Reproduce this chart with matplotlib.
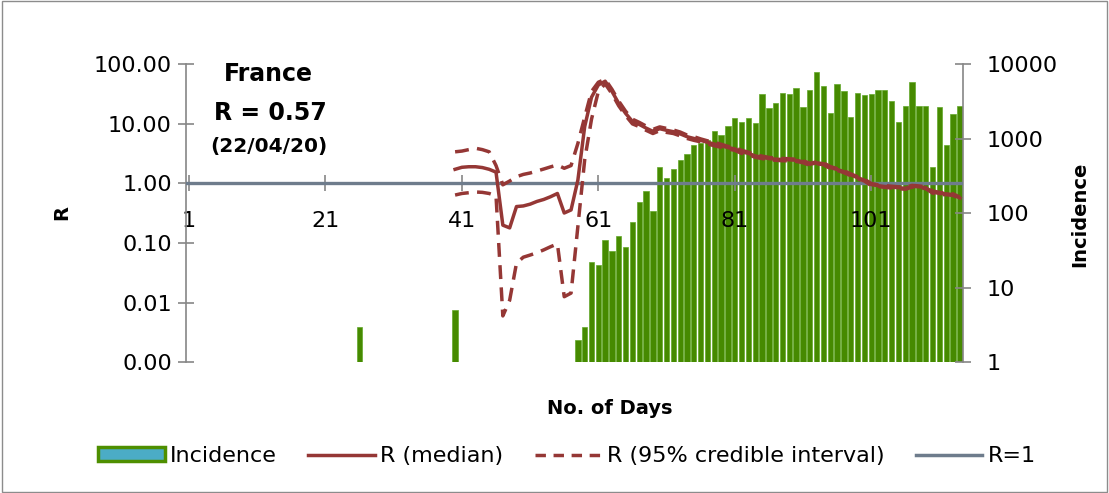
import matplotlib
matplotlib.use("Agg")
import matplotlib.pyplot as plt
from matplotlib.patches import Rectangle, Patch
from matplotlib.lines import Line2D
from matplotlib.ticker import FixedLocator, FuncFormatter

plt.rcParams['font.family'] = ['DejaVu Sans']

# incidence bars (day -> cases)
inc_days = [26, 40] + list(range(58, 115))
inc_vals = [3, 5,
            2, 3, 22, 20, 44, 31, 50, 35, 76, 143, 199, 107, 423, 300,
            393, 519, 620, 819, 879, 964, 1260, 1135, 1472, 1920, 1683, 1920, 1630, 4030,
            2566, 3053, 4120, 3990, 4810, 2700, 4560, 7820, 5070, 2200, 5440, 4425, 1945, 4080,
            3910, 4030, 4480, 4530, 3245, 1683, 2754, 5730, 2740, 2740, 423, 2650, 819, 2133, 2780]

# R estimates, days 40..114
r_days = list(range(40, 115))
r_median = [1.73, 1.87, 1.91, 1.91, 1.85, 1.73, 1.55, 0.20, 0.18, 0.41, 0.42, 0.45, 0.50,
            0.54, 0.60, 0.68, 0.32, 0.36, 1.14, 9.0, 28, 45, 52,
            35, 22, 15, 11, 9.8, 8.5, 7.5, 8.3, 7.8, 7.4, 6.8, 6.1, 5.7, 5.3, 4.9, 4.6,
            4.3, 4.0, 3.8, 3.4, 3.2, 2.9, 2.75, 2.62, 2.56, 2.52, 2.50, 2.45, 2.32, 2.10,
            2.22, 2.15, 1.85, 1.72, 1.58, 1.40, 1.25, 1.14, 0.96, 0.92, 0.89, 0.87, 0.85,
            0.83, 0.90, 0.88, 0.85, 0.72, 0.68, 0.67, 0.65, 0.57]
r_upper = [3.4, 3.5, 3.7, 3.9, 3.7, 3.4, 2.0, 0.95, 1.1, 1.3, 1.42, 1.5, 1.62,
           1.75, 1.9, 2.05, 1.8, 2.0, 4.7, 13, 35, 50, 56,
           38, 24, 16.3, 12, 10.6, 9.2, 8.1, 8.9, 8.4, 7.9, 7.3, 6.5, 6.1, 5.6, 5.2, 4.9,
           4.55, 4.2, 4.0, 3.6, 3.35, 3.05, 2.88, 2.74, 2.67, 2.63, 2.6, 2.55, 2.41, 2.18,
           2.3, 2.23, 1.92, 1.78, 1.64, 1.45, 1.3, 1.18, 1.0, 0.95, 0.92, 0.9, 0.88,
           0.86, 0.93, 0.91, 0.88, 0.75, 0.71, 0.69, 0.67, 0.59]
r_lower = [0.64, 0.68, 0.70, 0.72, 0.71, 0.68, 0.62, 0.006, 0.011, 0.046, 0.058, 0.063, 0.069,
           0.077, 0.087, 0.097, 0.0126, 0.0145, 0.19, 2.5, 12, 35, 47,
           32, 20, 13.8, 10, 9.0, 7.8, 6.9, 7.7, 7.2, 6.9, 6.3, 5.7, 5.3, 5.0, 4.6, 4.3,
           4.05, 3.8, 3.6, 3.2, 3.05, 2.75, 2.62, 2.5, 2.45, 2.41, 2.4, 2.35, 2.23, 2.02,
           2.14, 2.07, 1.78, 1.66, 1.52, 1.35, 1.2, 1.1, 0.92, 0.89, 0.86, 0.84, 0.82,
           0.80, 0.87, 0.85, 0.82, 0.69, 0.65, 0.65, 0.63, 0.55]

x_ticks = [1, 21, 41, 61, 81, 101]
r_ticks = [0.001, 0.01, 0.1, 1, 10, 100]
inc_ticks = [1, 10, 100, 1000, 10000]

green = '#468a00'
red = '#953735'
grey_line = '#6e7c8c'
axis_grey = '#868686'
dash = (0, (4, 2.4))

fig = plt.figure(figsize=(11.09, 4.93), dpi=100)
fig.patches.append(Rectangle((0.002, 0.003), 0.996, 0.994, transform=fig.transFigure,
                             fill=False, edgecolor='#8c8c8c', lw=1))

ax = fig.add_axes([0.1674, 0.2651, 0.7012, 0.6045])
ax2 = ax.twinx()
ax.set_zorder(ax2.get_zorder() + 1)
ax.patch.set_visible(False)

# bars on the right (incidence) axis
ax2.set_yscale('log')
ax2.bar(inc_days, inc_vals, width=0.78, color=green, edgecolor='#62a82a', lw=0.5)
ax2.set_ylim(1, 10000)
ax2.yaxis.set_major_locator(FixedLocator(inc_ticks))
ax2.yaxis.set_minor_locator(FixedLocator([]))
ax2.yaxis.set_major_formatter(FuncFormatter(lambda v, p: '%d' % round(v)))
ax2.tick_params(axis='y', direction='inout', length=12, width=1.2, color=axis_grey,
                labelsize=16, pad=11)

# R lines on the left axis
ax.set_yscale('log')
ax.axhline(1, color=grey_line, lw=2.4, zorder=3)
ax.plot(r_days, r_median, color=red, lw=2.5, solid_joinstyle='round', zorder=4)
ax.plot(r_days, r_upper, color=red, lw=2.5, ls=dash, zorder=4)
ax.plot(r_days, r_lower, color=red, lw=2.5, ls=dash, zorder=4)
ax.set_ylim(0.001, 100)
ax.set_xlim(0.5, 114.5)
ax.yaxis.set_major_locator(FixedLocator(r_ticks))
ax.yaxis.set_minor_locator(FixedLocator([]))
ax.yaxis.set_major_formatter(FuncFormatter(lambda v, p: '%.2f' % v))
ax.tick_params(axis='y', direction='inout', length=12, width=1.2, color=axis_grey,
               labelsize=16, pad=4)

ax.spines['bottom'].set_position(('data', 1))
ax.spines['bottom'].set_visible(False)
ax.set_xticks(x_ticks)
ax.tick_params(axis='x', direction='inout', length=12, width=1.2, color=axis_grey,
               labelsize=16, pad=14)
ax2.set_xlim(0.5, 114.5)

for a in (ax, ax2):
    a.spines['top'].set_visible(False)
    for s in ('left', 'right'):
        a.spines[s].set_color(axis_grey)
        a.spines[s].set_linewidth(1.2)
ax.spines['right'].set_visible(False)
ax2.spines['left'].set_visible(False)
ax2.spines['bottom'].set_visible(False)

# annotation
fig.text(268 / 1109, 1 - 74 / 493, 'France', fontsize=17, fontweight='bold', ha='center', va='center')
fig.text(270 / 1109, 1 - 112.7 / 493, 'R = 0.57', fontsize=17, fontweight='bold', ha='center', va='center')
fig.text(269 / 1109, 1 - 146.7 / 493, '(22/04/20)', fontsize=14.5, fontweight='bold', ha='center', va='center')

fig.text(62 / 1109, 1 - 213 / 493, 'R', fontsize=14, fontweight='bold', rotation=90, ha='center', va='center')
fig.text(1080 / 1109, 1 - 214 / 493, 'Incidence', fontsize=14, fontweight='bold', rotation=90, ha='center', va='center')
fig.text(610 / 1109, 1 - 408 / 493, 'No. of Days', fontsize=14, fontweight='bold', ha='center', va='center')

handles = [Patch(facecolor='#4bacc6', edgecolor='#4e8f00', lw=2.5),
           Line2D([], [], color=red, lw=2.5),
           Line2D([], [], color=red, lw=2.5, ls=(0, (3, 2.2))),
           Line2D([], [], color=grey_line, lw=2.5)]
labels = ['Incidence', 'R (median)', 'R (95% credible interval)', 'R=1']
fig.legend(handles, labels, loc='center', bbox_to_anchor=(567 / 1109, 1 - 456 / 493),
           ncol=4, frameon=False, fontsize=16, handlelength=3.0, handleheight=0.6,
           handletextpad=0.25, columnspacing=1.4)

fig.savefig('out.png', dpi=100)
